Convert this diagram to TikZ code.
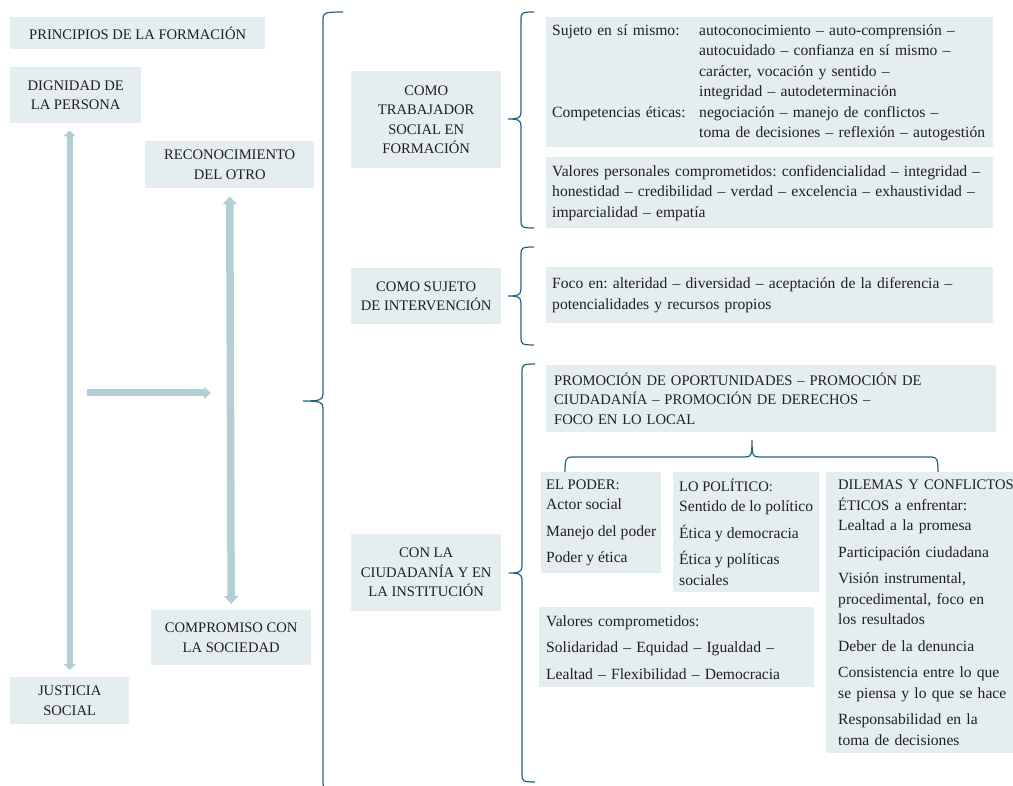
\documentclass[tikz,border=0pt]{standalone}
\usepackage{fontspec}
\setmainfont{Liberation Serif}
\usetikzlibrary{arrows.meta,positioning}
\frenchspacing

\definecolor{fondo}{HTML}{E4EEF1}
\definecolor{flechacol}{HTML}{B4CED6}
\definecolor{llavecol}{HTML}{1E6480}
\definecolor{tinta}{HTML}{231F20}

\newcommand{\mayus}{\fontsize{14.6}{19.5}\selectfont}
\newcommand{\cuerpo}{\fontsize{15.6}{20.5}\selectfont}
% brace: x, top, bottom, tip, hook length
\newcommand{\llave}[5]{%
  \draw[llave] (#1+#5,#2) .. controls (#1+1,#2) and (#1,#2+1) .. (#1,#2+7)
    -- (#1,#4-7) .. controls (#1,#4-1) and (#1-3,#4) .. (#1-#5,#4)
    .. controls (#1-3,#4) and (#1,#4+1) .. (#1,#4+7)
    -- (#1,#3-7) .. controls (#1,#3-1) and (#1+1,#3) .. (#1+#5,#3);}

\begin{document}
\begin{tikzpicture}[
  x=1pt, y=-1pt,
  caja/.style={rectangle, fill=fondo, text=tinta, font=\mayus, align=center, inner sep=0pt, anchor=north west},
  texto/.style={rectangle, fill=fondo, text=tinta, font=\cuerpo, align=left, inner xsep=6pt, inner ysep=0pt, anchor=north west},
  flecha/.style={draw=flechacol, line width=7pt},
  llave/.style={draw=llavecol, line width=1.2pt}
]
\useasboundingbox (0,0) rectangle (1013,786);

% Principles
\node[caja, minimum width=255pt, minimum height=32pt] (principios) at (10,17) {PRINCIPIOS DE LA FORMACIÓN};
\node[caja, minimum width=131pt, minimum height=56pt] (dignidad) at (10,67) {DIGNIDAD DE\\LA PERSONA};
\node[caja, minimum width=169pt, minimum height=47pt] (reconocimiento) at (145,141) {RECONOCIMIENTO\\DEL OTRO};
\node[caja, minimum width=160pt, minimum height=55pt] (compromiso) at (151,610) {COMPROMISO CON\\LA SOCIEDAD};
\node[caja, minimum width=119pt, minimum height=47pt] (justicia) at (10,677) {JUSTICIA\\SOCIAL};

% Arrows
\coordinate (flujo-ini) at (87,393);
\coordinate (flujo-fin) at (211,393);
\draw[flecha, line width=6pt, arrows={Triangle[width=12pt,length=6pt]-Triangle[width=12pt,length=6pt]}, shorten <=7pt, shorten >=7pt] (justicia.north |- dignidad.south) -- (justicia.north);
\draw[flecha, line width=7.5pt, arrows={Triangle[width=14pt,length=8pt]-Triangle[width=14pt,length=8pt]}, shorten <=8pt, shorten >=6pt] (reconocimiento.south) -- (compromiso.north);
\draw[flecha, -{Triangle[width=12pt,length=7pt]}] (flujo-ini) -- (flujo-fin);

% Dimensions
\node[caja, minimum width=150pt, minimum height=97pt] (trabajador) at (351,71) {COMO\\TRABAJADOR\\SOCIAL EN\\FORMACIÓN};
\node[caja, minimum width=150pt, minimum height=56pt] (intervencion) at (351,268) {COMO SUJETO\\DE INTERVENCIÓN};
\node[caja, minimum width=150pt, minimum height=77pt] (ciudadania) at (351,534) {CON LA\\CIUDADANÍA Y EN\\LA INSTITUCIÓN};

% Social worker in training
\node[texto, text width=435pt, minimum height=130pt] (sujeto) at (546,17) {%
  \begin{tabular}{@{}p{147pt}@{}l@{}}
  Sujeto en sí mismo: & autoconocimiento – auto-comprensión –\\
  & autocuidado – confianza en sí mismo –\\
  & carácter, vocación y sentido –\\
  & integridad – autodeterminación\\
  Competencias éticas: & negociación – manejo de conflictos –\\
  & toma de decisiones – reflexión – autogestión
  \end{tabular}};
\node[texto, text width=435pt, minimum height=71pt] (valores) at (546,157) {Valores personales comprometidos: confidencialidad – integridad –\\honestidad – credibilidad – verdad – excelencia – exhaustividad –\\imparcialidad – empatía};

% Subject of intervention
\node[texto, text width=435pt, minimum height=56pt] (foco) at (546,267) {Foco en: alteridad – diversidad – aceptación de la diferencia –\\potencialidades y recursos propios};

% Citizenship and institution
\node[texto, font=\mayus, inner xsep=8pt, text width=434pt, minimum height=67pt] (promocion) at (546,365) {PROMOCIÓN DE OPORTUNIDADES – PROMOCIÓN DE\\CIUDADANÍA – PROMOCIÓN DE DERECHOS –\\FOCO EN LO LOCAL};
\node[texto, inner xsep=5pt, minimum height=101pt] (poder) at (541,472) {{\mayus EL PODER:}\\Actor social\\[6pt]Manejo del poder\\[6pt]Poder y ética};
\node[texto, inner xsep=6pt, minimum height=120pt] (politico) at (673,472) {{\mayus LO POLÍTICO:}\\Sentido de lo político\\[6pt]Ética y democracia\\[6pt]Ética y políticas\\sociales};
\node[texto, inner xsep=12pt, text width=178pt, minimum height=281pt] (dilemas) at (826,472) {{\mayus DILEMAS Y CONFLICTOS}\\{\mayus ÉTICOS} a enfrentar:\\Lealtad a la promesa\\[6pt]Participación ciudadana\\[6pt]Visión instrumental,\\procedimental, foco en\\los resultados\\[6pt]Deber de la denuncia\\[6pt]Consistencia entre lo que\\se piensa y lo que se hace\\[6pt]Responsabilidad en la\\toma de decisiones};
\node[texto, inner xsep=7pt, text width=261pt, minimum height=80pt] (valcomp) at (539,607) {Valores comprometidos:\\[6pt]Solidaridad – Equidad – Igualdad –\\[6pt]Lealtad – Flexibilidad – Democracia};

% Braces
\llave{323}{12}{790}{401}{20}
\llave{521}{12}{228}{119}{13}
\llave{521}{247}{345}{296}{13}
\llave{522}{364}{782}{573}{13}
\draw[llave] (565,472) .. controls (565,459) and (566,457) .. (572,457) -- (745,457)
  .. controls (751,457) and (752,456) .. (752,440)
  .. controls (752,456) and (753,457) .. (759,457) -- (931,457)
  .. controls (937,457) and (938,459) .. (938,472);
\end{tikzpicture}
\end{document}
